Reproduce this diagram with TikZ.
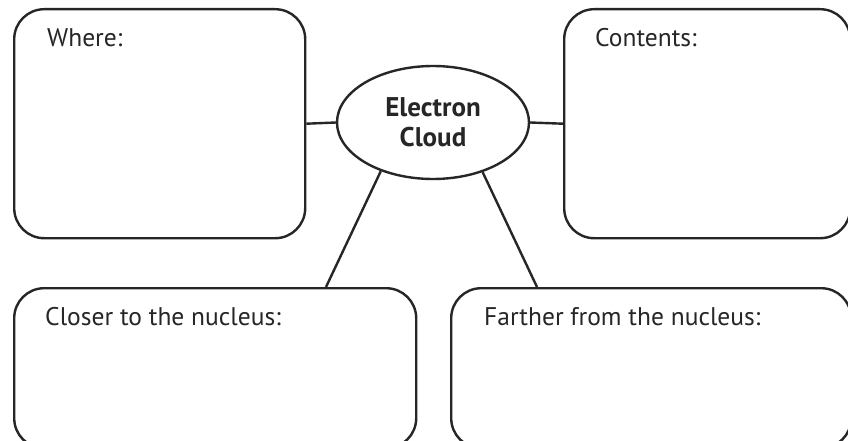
\documentclass[tikz,border=0pt]{standalone}
\usepackage{fontspec}
\setmainfont{PT Sans}
\usetikzlibrary{shapes.geometric,calc}
\begin{document}
\begin{tikzpicture}[x=1pt,y=-1pt,
  every node/.style={font=\fontsize{25.5}{28}\selectfont, text=black!85},
  infobox/.style={draw=black!85, line width=2.4pt, rounded corners=30pt,
    rectangle, inner sep=0pt, anchor=north west},
  boxlabel/.style={anchor=base west, inner sep=0pt},
  hub/.style={draw=black!85, line width=2.4pt, ellipse, inner sep=0pt,
    minimum width=192pt, minimum height=113pt, align=center,
    font=\fontsize{27}{30}\selectfont\bfseries},
  link/.style={draw=black!85, line width=2.4pt}]
  \clip (0,0) rectangle (848,441);
  \fill[white] (0,0) rectangle (848,441);

  % four answer boxes
  \node[infobox, minimum width=291pt, minimum height=229pt] (where) at (13,8) {};
  \node[infobox, minimum width=286pt, minimum height=229pt] (contents) at (563,8) {};
  \node[infobox, minimum width=402pt, minimum height=160pt] (closer) at (13,287) {};
  \node[infobox, minimum width=400pt, minimum height=160pt] (farther) at (450,287) {};

  % box headings
  \node[boxlabel] (whereT) at (47,47) {Where:};
  \node[boxlabel] (contentsT) at (595,47) {Contents:};
  \node[boxlabel] (closerT) at (45,325) {Closer to the nucleus:};
  \node[boxlabel] (fartherT) at (484,325) {Farther from the nucleus:};

  % central topic
  \node[hub] (cloud) at (433,122.5) {Electron\\Cloud};

  % connectors
  \coordinate (closerTop) at ($(closer.north west)+(313,0)$);
  \coordinate (fartherTop) at ($(farther.north west)+(87,0)$);
  \draw[link] (cloud.west) -- (where.east);
  \draw[link] (cloud.east) -- (contents.west);
  \draw[link] (cloud.-137) -- (closerTop);
  \draw[link] (cloud.-45) -- (fartherTop);
\end{tikzpicture}
\end{document}
